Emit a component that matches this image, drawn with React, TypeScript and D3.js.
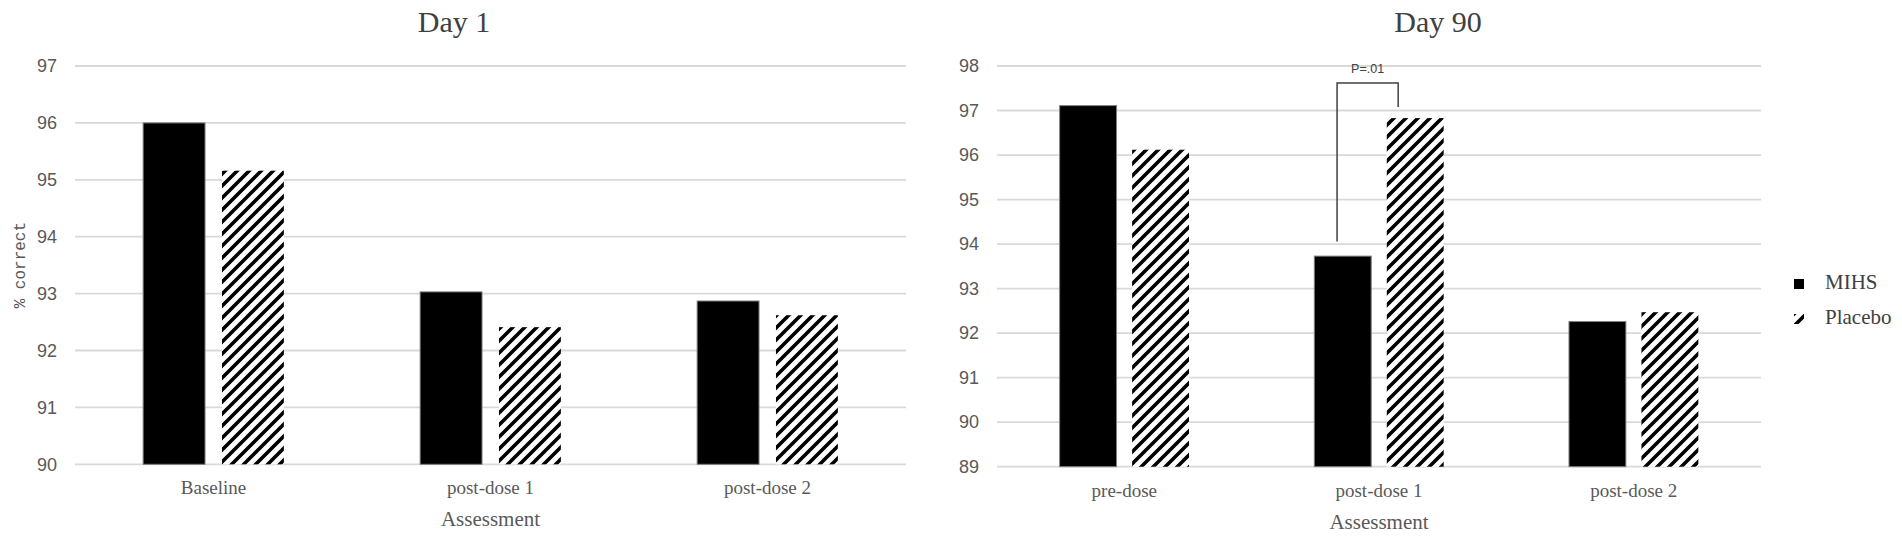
import React from "react";
import * as d3 from "d3";

const seriesNames = ["MIHS", "Placebo"];

const categoriesDay1 = ["Baseline", "post-dose 1", "post-dose 2"];
const mihsDay1 = [96.0, 93.03, 92.87];
const placeboDay1 = [95.16, 92.41, 92.62];
const ticksDay1 = [90, 91, 92, 93, 94, 95, 96, 97];

const categoriesDay90 = ["pre-dose", "post-dose 1", "post-dose 2"];
const mihsDay90 = [97.11, 93.73, 92.26];
const placeboDay90 = [96.12, 96.83, 92.47];
const ticksDay90 = [89, 90, 91, 92, 93, 94, 95, 96, 97, 98];

// significance bracket (data units)
const bracketDay90 = { category: "post-dose 1", label: "P=.01", top: 97.62, leftEnd: 94.06, rightEnd: 97.08 };

const GRID = "#d9d9d9";
const TEXT = "#595959";
const SERIF = "'Liberation Serif', 'Times New Roman', serif";
const SANS = "'Liberation Sans', Arial, sans-serif";

type ChartProps = {
  categories: string[];
  mihs: number[];
  placebo: number[];
  ticks: number[];
  title: string;
  titleX: number;
  x0: number;
  x1: number;
  y0: number;
  y1: number;
  showYTitle?: boolean;
  bracket?: typeof bracketDay90;
};

function Chart(p: ChartProps) {
  const y = d3.scaleLinear().domain([p.ticks[0], p.ticks[p.ticks.length - 1]]).range([p.y1, p.y0]);
  const x = d3.scaleBand<string>().domain(p.categories).range([p.x0, p.x1]).padding(0);
  const step = x.step();
  const groupW = step * 0.508;
  const inner = d3.scaleBand<string>().domain(seriesNames).range([-groupW / 2, groupW / 2]).paddingInner(0.215).paddingOuter(0);
  const bw = inner.bandwidth();
  const values = [p.mihs, p.placebo];
  const cx = (c: string) => (x(c) as number) + step / 2;

  let bracketEl = null;
  if (p.bracket) {
    const b = p.bracket;
    const c = cx(b.category);
    const lx = c + (inner("MIHS") as number) + bw * 0.4;
    const rx = c + (inner("Placebo") as number) + bw * 0.2;
    bracketEl = (
      <g>
        <path
          d={`M${lx},${y(b.leftEnd)} L${lx},${y(b.top)} L${rx},${y(b.top)} L${rx},${y(b.rightEnd)}`}
          fill="none"
          stroke="#404040"
          strokeWidth={1.5}
        />
        <text x={(lx + rx) / 2} y={y(b.top) - 10} textAnchor="middle" style={{ fontFamily: SANS, fontSize: 12.5 }} fill="#404040">
          {b.label}
        </text>
      </g>
    );
  }

  return (
    <g>
      <text x={p.titleX} y={32} textAnchor="middle" style={{ fontFamily: SERIF, fontSize: 30 }} fill="#404040">
        {p.title}
      </text>
      {p.ticks.map((t) => (
        <g key={t}>
          <line x1={p.x0} x2={p.x1} y1={y(t)} y2={y(t)} stroke={GRID} strokeWidth={1.8} />
          <text x={p.x0 - 18} y={y(t)} dy="0.35em" textAnchor="end" style={{ fontFamily: SANS, fontSize: 18 }} fill={TEXT}>
            {t}
          </text>
        </g>
      ))}
      {p.categories.map((c, i) => (
        <g key={c}>
          {seriesNames.map((s, si) => {
            const v = values[si][i];
            const bx = cx(c) + (inner(s) as number);
            return si === 0 ? (
              <rect key={s} x={bx} y={y(v)} width={bw} height={y(p.ticks[0]) - y(v)} fill="#000" stroke="#7f7f7f" strokeWidth={1} />
            ) : (
              <rect key={s} x={bx} y={y(v)} width={bw} height={y(p.ticks[0]) - y(v)} fill="url(#hatch)" />
            );
          })}
          <text x={cx(c)} y={p.y1 + 30} textAnchor="middle" style={{ fontFamily: SERIF, fontSize: 19 }} fill={TEXT}>
            {c}
          </text>
        </g>
      ))}
      <text x={(p.x0 + p.x1) / 2} y={p.y1 + 62} textAnchor="middle" style={{ fontFamily: SERIF, fontSize: 21 }} fill={TEXT}>
        Assessment
      </text>
      {p.showYTitle && (
        <text
          transform={`translate(25,${(p.y0 + p.y1) / 2}) rotate(-90)`}
          textAnchor="middle"
          style={{ fontFamily: "'Liberation Mono', 'Courier New', monospace", fontSize: 16 }}
          fill={TEXT}
        >
          % correct
        </text>
      )}
      {bracketEl}
    </g>
  );
}

export default function App() {
  return (
    <svg width={1902} height={542} style={{ position: "absolute", left: 0, top: 0, display: "block", background: "#fff" }}>
      <defs>
        <pattern id="hatch" patternUnits="userSpaceOnUse" width={12} height={12}>
          <rect width={12} height={12} fill="#fff" />
          <path d="M-3,3 L3,-3 M0,12 L12,0 M9,15 L15,9" stroke="#000" strokeWidth={3.6} />
        </pattern>
      </defs>
      <rect width={1902} height={542} fill="#fff" />
      <Chart
        categories={categoriesDay1}
        mihs={mihsDay1}
        placebo={placeboDay1}
        ticks={ticksDay1}
        title="Day 1"
        titleX={454}
        x0={75}
        x1={906}
        y0={66}
        y1={464.3}
        showYTitle
      />
      <Chart
        categories={categoriesDay90}
        mihs={mihsDay90}
        placebo={placeboDay90}
        ticks={ticksDay90}
        title="Day 90"
        titleX={1438}
        x0={997}
        x1={1761}
        y0={66}
        y1={466.7}
        bracket={bracketDay90}
      />
      {seriesNames.map((s, i) => (
        <g key={s} transform={`translate(1794,${279 + i * 35})`}>
          <rect x={0} y={0} width={10} height={10} fill={i === 0 ? "#000" : "url(#hatch)"} />
          <text x={31} y={10} style={{ fontFamily: SERIF, fontSize: 21 }} fill="#404040">
            {s}
          </text>
        </g>
      ))}
    </svg>
  );
}
